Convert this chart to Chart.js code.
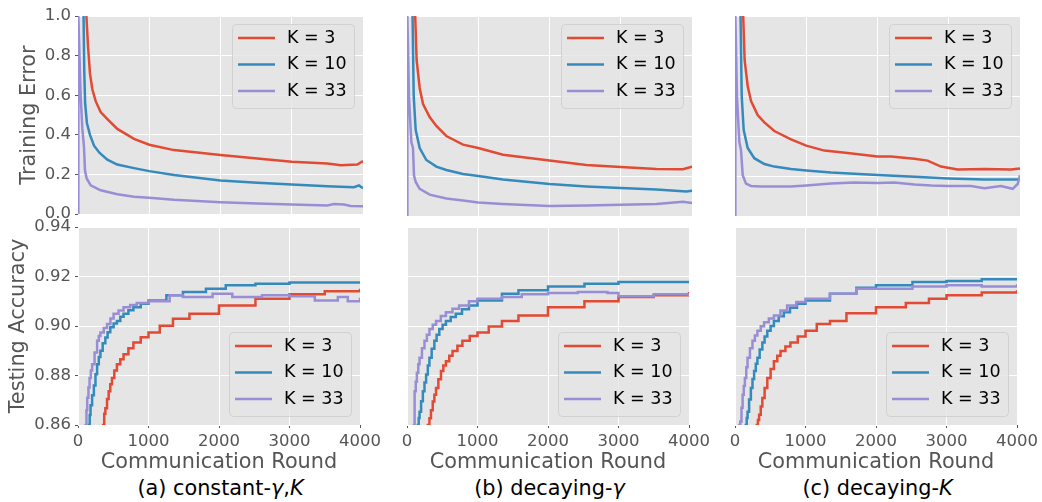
<!DOCTYPE html>
<html lang="en">
<head>
<meta charset="utf-8">
<title>Training error and testing accuracy vs communication round</title>
<script src="https://cdn.jsdelivr.net/npm/chart.js@4.4.0/dist/chart.umd.min.js"></script>
<style>
  html, body { margin: 0; padding: 0; background: #fff; overflow: hidden; }
  body { width: 1042px; height: 502px; position: relative; font-family: "DejaVu Sans", sans-serif; }
  canvas { position: absolute; }
  .caption { position: absolute; width: 285px; top: 476px; text-align: center;
             font-size: 20.8px; line-height: 24px; color: #000; white-space: nowrap; }
</style>
</head>
<body>
<canvas id="trainA" width="385" height="228" style="left:0px;top:0px"></canvas>
<canvas id="trainB" width="317" height="228" style="left:397px;top:0px"></canvas>
<canvas id="trainC" width="317" height="228" style="left:725px;top:0px"></canvas>
<canvas id="testA" width="385" height="264" style="left:0px;top:211px"></canvas>
<canvas id="testB" width="317" height="264" style="left:397px;top:211px"></canvas>
<canvas id="testC" width="317" height="264" style="left:725px;top:211px"></canvas>

<div class="caption" style="left:78px">(a) constant-<i>γ</i>,<i>K</i></div>
<div class="caption" style="left:407px">(b) decaying-<i>γ</i></div>
<div class="caption" style="left:735px">(c) decaying-<i>K</i></div>

<script>
// [communication round, value]
const labels = ['K = 3', 'K = 10', 'K = 33'];
const colors = ['#E24A33', '#348ABD', '#988ED5'];

// training error, (a) constant-gamma,K
const trainA_K3 = [[118,1.0],[140,0.85],[168,0.71],[201,0.63],[248,0.57],[318,0.515],[412,0.48],[552,0.43],[786,0.38],[1000,0.35],[1347,0.323],[2000,0.298],[2517,0.281],[3000,0.264],[3500,0.255],[3690,0.247],[3920,0.25],[4000,0.268]];
const trainA_K10 = [[78,1.0],[88,0.72],[100,0.56],[125,0.46],[168,0.40],[225,0.345],[300,0.31],[412,0.275],[550,0.25],[786,0.232],[1000,0.217],[1347,0.197],[2000,0.17],[2517,0.158],[3000,0.149],[3500,0.141],[3873,0.136],[3944,0.145],[4000,0.13]];
const trainA_K33 = [[0,0],[5,1.0],[37,0.6],[61,0.43],[84,0.34],[98,0.22],[122,0.18],[178,0.145],[318,0.12],[552,0.10],[786,0.088],[1000,0.082],[1347,0.072],[2000,0.06],[2517,0.053],[3000,0.049],[3500,0.044],[3593,0.051],[3733,0.048],[3827,0.041],[4000,0.039]];

// training error, (b) decaying-gamma
const trainB_K3 = [[115,1.0],[135,0.78],[178,0.64],[225,0.56],[318,0.495],[412,0.45],[552,0.40],[786,0.357],[1000,0.34],[1347,0.306],[2000,0.277],[2517,0.255],[3000,0.245],[3500,0.235],[3873,0.234],[4000,0.247]];
const trainB_K10 = [[78,1.0],[94,0.6],[122,0.43],[178,0.34],[271,0.28],[412,0.247],[552,0.23],[786,0.21],[1000,0.2],[1347,0.182],[2000,0.16],[2517,0.148],[3000,0.14],[3500,0.132],[3920,0.122],[4000,0.126]];
const trainB_K33 = [[0,0],[5,1.0],[28,0.595],[61,0.37],[84,0.34],[98,0.204],[122,0.17],[178,0.136],[318,0.107],[552,0.088],[786,0.077],[1000,0.067],[1347,0.06],[2000,0.05],[2517,0.052],[3000,0.056],[3500,0.06],[3873,0.071],[4000,0.065]];

// training error, (c) decaying-K
const trainC_K3 = [[115,1.0],[135,0.78],[178,0.65],[225,0.575],[318,0.505],[412,0.468],[552,0.425],[786,0.383],[1000,0.352],[1254,0.327],[1581,0.315],[2000,0.298],[2189,0.298],[2517,0.286],[2704,0.277],[2891,0.247],[3125,0.232],[3500,0.235],[3873,0.232],[4000,0.238]];
const trainC_K10 = [[78,1.0],[94,0.6],[122,0.43],[178,0.34],[271,0.289],[412,0.26],[552,0.247],[786,0.235],[1000,0.228],[1347,0.218],[2000,0.205],[2517,0.196],[3000,0.188],[3500,0.182],[3967,0.183],[4000,0.185]];
const trainC_K33 = [[0,0],[5,1.0],[28,0.595],[61,0.37],[84,0.33],[108,0.204],[154,0.162],[225,0.15],[365,0.147],[552,0.147],[786,0.148],[1000,0.153],[1347,0.162],[1675,0.168],[2000,0.165],[2236,0.168],[2517,0.158],[2751,0.153],[3000,0.15],[3312,0.15],[3500,0.139],[3733,0.15],[3897,0.136],[3967,0.16],[4000,0.204]];

// testing accuracy, (a) constant-gamma,K
const testA_K3 = [[340,0.855],[356,0.86],[372,0.8645],[388,0.8668],[412,0.8705],[435,0.8736],[458,0.8765],[482,0.879],[515,0.882],[552,0.8845],[600,0.8866],[646,0.8886],[715,0.891],[786,0.8933],[890,0.8955],[1000,0.8974],[1160,0.9001],[1347,0.9029],[1581,0.905],[2000,0.9083],[2517,0.911],[3000,0.9128],[3500,0.914],[4000,0.9151]];
const testA_K10 = [[150,0.855],[154,0.86],[166,0.864],[178,0.868],[200,0.872],[225,0.876],[248,0.8805],[271,0.8845],[295,0.8875],[318,0.89],[350,0.893],[388,0.8954],[420,0.8975],[458,0.8995],[505,0.901],[552,0.902],[600,0.9037],[646,0.905],[715,0.9064],[786,0.9076],[890,0.909],[1000,0.9103],[1254,0.9124],[1488,0.9137],[1815,0.9151],[2096,0.9165],[2517,0.9171],[3000,0.9176],[3500,0.9176],[4000,0.9174]];
const testA_K33 = [[100,0.855],[108,0.86],[120,0.866],[131,0.871],[148,0.8752],[164,0.879],[182,0.882],[201,0.8845],[235,0.8893],[271,0.894],[295,0.896],[318,0.8974],[365,0.8992],[412,0.9008],[460,0.903],[505,0.905],[575,0.9063],[646,0.9076],[740,0.9085],[833,0.9093],[1000,0.910],[1300,0.9124],[1488,0.9117],[1909,0.913],[2189,0.9117],[2610,0.9124],[3000,0.912],[3359,0.9103],[3686,0.9117],[3827,0.910],[4000,0.9114]];

// testing accuracy, (b) decaying-gamma
const testB_K3 = [[290,0.855],[295,0.86],[318,0.8627],[340,0.866],[365,0.8695],[388,0.8722],[412,0.875],[445,0.8785],[482,0.8818],[515,0.884],[552,0.8858],[600,0.888],[646,0.8899],[715,0.892],[786,0.894],[890,0.896],[1000,0.8974],[1160,0.8998],[1347,0.902],[1581,0.9042],[2000,0.9076],[2517,0.910],[3000,0.9117],[3500,0.9124],[4000,0.9137]];
const testB_K10 = [[150,0.855],[154,0.86],[166,0.8628],[178,0.8654],[200,0.8696],[225,0.8736],[248,0.8772],[271,0.8804],[295,0.884],[318,0.8872],[350,0.8908],[388,0.894],[420,0.8965],[458,0.8988],[505,0.9005],[552,0.902],[620,0.9036],[692,0.905],[780,0.9068],[879,0.9083],[1000,0.9103],[1347,0.913],[1581,0.9144],[2000,0.916],[2517,0.9171],[3000,0.9178],[4000,0.9178]];
const testB_K33 = [[90,0.855],[98,0.86],[108,0.8736],[124,0.8775],[140,0.8811],[160,0.8845],[178,0.8872],[212,0.891],[248,0.894],[282,0.8965],[318,0.8988],[365,0.9005],[412,0.902],[480,0.904],[552,0.9056],[645,0.907],[739,0.9083],[879,0.910],[1000,0.911],[1347,0.9117],[1628,0.9128],[2000,0.9133],[2423,0.9137],[2844,0.9133],[3000,0.912],[3500,0.9128],[4000,0.912]];

// testing accuracy, (c) decaying-K
const testC_K3 = [[300,0.855],[309,0.86],[325,0.862],[342,0.8641],[365,0.8675],[388,0.8709],[420,0.875],[458,0.879],[505,0.8826],[552,0.8858],[600,0.888],[646,0.8899],[715,0.8917],[786,0.8933],[890,0.8958],[1000,0.8981],[1160,0.9008],[1347,0.902],[1581,0.9052],[2000,0.9076],[2423,0.9093],[2751,0.911],[3000,0.9124],[3500,0.9135],[4000,0.9144]];
const testC_K10 = [[150,0.855],[154,0.86],[166,0.8628],[178,0.8654],[200,0.8703],[225,0.875],[248,0.8786],[271,0.8818],[295,0.8847],[318,0.8872],[350,0.8905],[388,0.8933],[420,0.8958],[458,0.8981],[505,0.9],[552,0.902],[620,0.9039],[692,0.9056],[780,0.9074],[879,0.909],[1000,0.9103],[1347,0.913],[1722,0.9155],[2000,0.9165],[2517,0.9178],[3000,0.9182],[3500,0.9189],[4000,0.9192]];
const testC_K33 = [[60,0.855],[61,0.86],[75,0.8614],[92,0.867],[108,0.8722],[124,0.8758],[140,0.879],[160,0.8833],[178,0.8872],[212,0.891],[248,0.894],[282,0.8962],[318,0.8981],[365,0.8999],[412,0.9015],[480,0.903],[552,0.9042],[645,0.9063],[739,0.9083],[870,0.9097],[1000,0.911],[1347,0.913],[1722,0.9151],[2000,0.9151],[2517,0.916],[3000,0.9165],[3500,0.916],[4000,0.9169]];

const roundTicks = { min: 0, max: 4000, step: 1000 };
const errorTicks = { min: 0, max: 1, step: 0.2, digits: 1 };
const accTicks = { min: 0.86, max: 0.94, step: 0.02, digits: 2 };

Chart.defaults.font.family = '"DejaVu Sans", sans-serif';
Chart.defaults.animation = false;

// grey ggplot panel
const panelBg = {
  id: 'panelBg',
  beforeDraw(chart) {
    const a = chart.chartArea, ctx = chart.ctx;
    ctx.save();
    ctx.fillStyle = '#E5E5E5';
    ctx.fillRect(a.left, a.top, a.right - a.left, a.bottom - a.top);
    ctx.restore();
  }
};

// matplotlib-like legend box inside the axes
const innerLegend = {
  id: 'innerLegend',
  afterDatasetsDraw(chart, args, opts) {
    const a = chart.chartArea, ctx = chart.ctx;
    const w = 122, h = 84;
    const x = a.right - 9 - w;
    const y = opts.corner === 'bottom' ? a.bottom - 9 - h : a.top + 8;
    ctx.save();
    ctx.beginPath();
    ctx.roundRect(x + 0.5, y + 0.5, w, h, 4);
    ctx.fillStyle = 'rgba(229,229,229,0.8)';
    ctx.fill();
    ctx.strokeStyle = 'rgba(204,204,204,0.8)';
    ctx.lineWidth = 1;
    ctx.stroke();
    ctx.font = '17.5px "DejaVu Sans"';
    ctx.textBaseline = 'middle';
    chart.data.datasets.forEach(function(ds, i) {
      const ly = y + 14 + i * 26.5;
      ctx.strokeStyle = ds.borderColor;
      ctx.lineWidth = ds.borderWidth;
      ctx.beginPath();
      ctx.moveTo(x + 6, ly);
      ctx.lineTo(x + 43, ly);
      ctx.stroke();
      ctx.fillStyle = '#000';
      ctx.fillText(ds.label, x + 55, ly);
    });
    ctx.restore();
  }
};

function xAxis(show) {
  return {
    type: 'linear', min: roundTicks.min, max: roundTicks.max,
    border: { display: false },
    grid: { color: '#ffffff', lineWidth: 1, drawTicks: show, tickLength: 3, tickColor: '#555555' },
    ticks: { display: show, stepSize: roundTicks.step, color: '#555555', font: { size: 16.5 },
             padding: 4, maxRotation: 0, autoSkip: false, callback: v => String(v) },
    title: { display: show, text: 'Communication Round', color: '#555555',
             font: { size: 20.8 }, padding: { top: 0, bottom: 0 } },
    afterFit(s) { s.height = show ? 50 : 0; }
  };
}

function yAxis(t, title, titlePad) {
  const show = !!title;
  return {
    type: 'linear', min: t.min, max: t.max,
    border: { display: false },
    grid: { color: '#ffffff', lineWidth: 1, drawTicks: show, tickLength: 3, tickColor: '#555555' },
    ticks: { display: show, stepSize: t.step, color: '#555555', font: { size: 16.5 },
             padding: 4, autoSkip: false, callback: v => v.toFixed(t.digits) },
    title: { display: show, text: title || '', color: '#555555',
             font: { size: 20.8 }, padding: { top: titlePad || 0, bottom: 0 } },
    afterFit(s) { s.width = show ? 78 : 0; }
  };
}

function panel(id, series, opt) {
  new Chart(document.getElementById(id), {
    type: 'line',
    data: {
      datasets: series.map(function(s, i) {
        return {
          label: labels[i], data: s, borderColor: colors[i], backgroundColor: colors[i],
          borderWidth: 2.5, pointRadius: 0, tension: 0, clip: 0,
          stepped: opt.stepped, order: series.length - i
        };
      })
    },
    options: {
      responsive: false,
      maintainAspectRatio: false,
      layout: { padding: { left: opt.padLeft, right: 22, top: 16, bottom: opt.padBottom } },
      scales: { x: xAxis(opt.showX), y: yAxis(opt.yTicks, opt.yTitle, opt.titlePad) },
      plugins: {
        legend: { display: false },
        tooltip: { enabled: false },
        innerLegend: { corner: opt.corner }
      }
    },
    plugins: [panelBg, innerLegend]
  });
}

const topRow = { stepped: false, showX: false, yTicks: errorTicks, padBottom: 12, corner: 'top' };
const bottomRow = { stepped: true, showX: true, yTicks: accTicks, padBottom: 0, corner: 'bottom' };

panel('trainA', [trainA_K3, trainA_K10, trainA_K33], Object.assign({}, topRow, { padLeft: 0, yTitle: 'Training Error', titlePad: 17 }));
panel('trainB', [trainB_K3, trainB_K10, trainB_K33], Object.assign({}, topRow, { padLeft: 10 }));
panel('trainC', [trainC_K3, trainC_K10, trainC_K33], Object.assign({}, topRow, { padLeft: 10 }));
panel('testA', [testA_K3, testA_K10, testA_K33], Object.assign({}, bottomRow, { padLeft: 0, yTitle: 'Testing Accuracy', titlePad: 6 }));
panel('testB', [testB_K3, testB_K10, testB_K33], Object.assign({}, bottomRow, { padLeft: 10 }));
panel('testC', [testC_K3, testC_K10, testC_K33], Object.assign({}, bottomRow, { padLeft: 10 }));
</script>
</body>
</html>
